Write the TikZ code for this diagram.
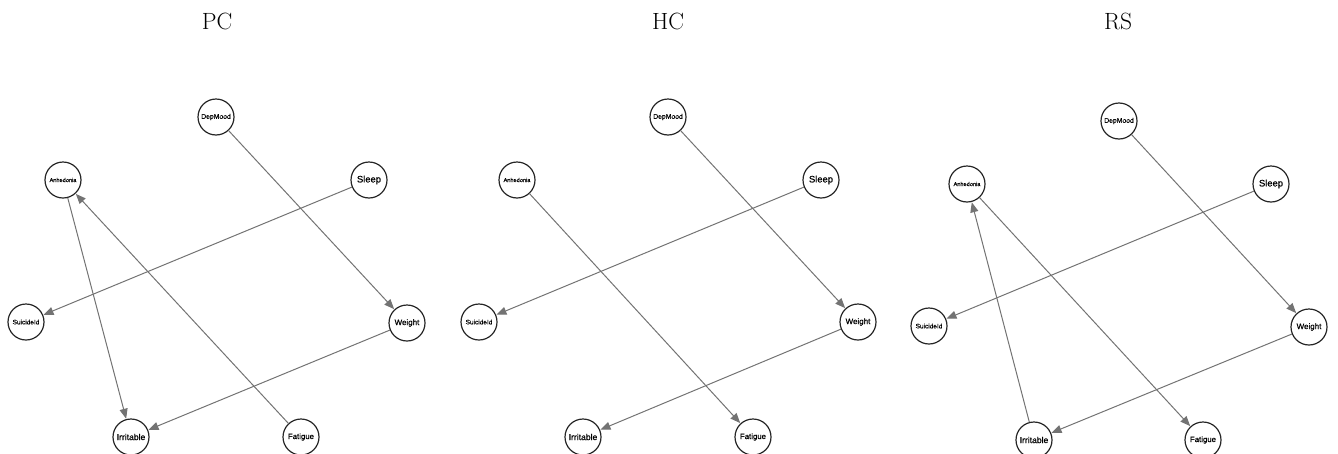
\documentclass[tikz,border=0pt]{standalone}
\usepackage{fontspec}
\newfontfamily\nodefont[FakeBold=0.7]{Liberation Sans}
\usetikzlibrary{arrows.meta}
\begin{document}
\begin{tikzpicture}[x=1pt,y=-1pt,
  var/.style={circle,draw=black!85,line width=1.2pt,minimum size=36pt,inner sep=0pt,fill=white,font=\nodefont},
  ttl/.style={font=\fontsize{23.5}{28}\selectfont},
  edge/.style={draw=black!55,line width=1pt,-{Triangle[length=10pt,width=8pt]},shorten >=0.3pt}]
\useasboundingbox (0,0) rectangle (1338,453);
% titles
\node[ttl] (tPC) at (217,21) {PC};
\node[ttl] (tHC) at (668,21) {HC};
\node[ttl] (tRS) at (1118,21) {RS};
% ---------- PC ----------
\begin{scope}
\node[var,font=\nodefont\fontsize{6.8}{8}\selectfont] (pD) at (216,117) {DepMood};
\node[var,font=\nodefont\fontsize{5.6}{7}\selectfont] (pA) at (63,180) {Anhedonia};
\node[var,font=\nodefont\fontsize{9.4}{11}\selectfont] (pS) at (369,180) {Sleep};
\node[var,font=\nodefont\fontsize{6.5}{8}\selectfont] (pU) at (26,322) {SuicideId};
\node[var,font=\nodefont\fontsize{8}{10}\selectfont] (pW) at (407,323) {Weight};
\node[var,font=\nodefont\fontsize{8.6}{10}\selectfont] (pI) at (131,437) {Irritable};
\node[var,font=\nodefont\fontsize{7.8}{10}\selectfont] (pF) at (301,437) {Fatigue};
\draw[edge] (pD) -- (pW);
\draw[edge] (pS) -- (pU);
\draw[edge] (pA) -- (pI);
\draw[edge] (pF) -- (pA);
\draw[edge] (pW) -- (pI);
\end{scope}
% ---------- HC ----------
\begin{scope}
\node[var,font=\nodefont\fontsize{6.8}{8}\selectfont] (hD) at (668,117) {DepMood};
\node[var,font=\nodefont\fontsize{5.6}{7}\selectfont] (hA) at (517,180) {Anhedonia};
\node[var,font=\nodefont\fontsize{9.4}{11}\selectfont] (hS) at (821,180) {Sleep};
\node[var,font=\nodefont\fontsize{6.5}{8}\selectfont] (hU) at (479,322) {SuicideId};
\node[var,font=\nodefont\fontsize{8}{10}\selectfont] (hW) at (858,322) {Weight};
\node[var,font=\nodefont\fontsize{8.6}{10}\selectfont] (hI) at (583,437) {Irritable};
\node[var,font=\nodefont\fontsize{7.8}{10}\selectfont] (hF) at (753,437) {Fatigue};
\draw[edge] (hD) -- (hW);
\draw[edge] (hS) -- (hU);
\draw[edge] (hA) -- (hF);
\draw[edge] (hW) -- (hI);
\end{scope}
% ---------- RS ----------
\begin{scope}
\node[var,font=\nodefont\fontsize{6.8}{8}\selectfont] (rD) at (1119,121) {DepMood};
\node[var,font=\nodefont\fontsize{5.6}{7}\selectfont] (rA) at (967,184) {Anhedonia};
\node[var,font=\nodefont\fontsize{9.4}{11}\selectfont] (rS) at (1271,184) {Sleep};
\node[var,font=\nodefont\fontsize{6.5}{8}\selectfont] (rU) at (929,326) {SuicideId};
\node[var,font=\nodefont\fontsize{8}{10}\selectfont] (rW) at (1309,327) {Weight};
\node[var,font=\nodefont\fontsize{8.6}{10}\selectfont] (rI) at (1034,440) {Irritable};
\node[var,font=\nodefont\fontsize{7.8}{10}\selectfont] (rF) at (1203,440) {Fatigue};
\draw[edge] (rD) -- (rW);
\draw[edge] (rS) -- (rU);
\draw[edge] (rI) -- (rA);
\draw[edge] (rA) -- (rF);
\draw[edge] (rW) -- (rI);
\end{scope}
\end{tikzpicture}
\end{document}
